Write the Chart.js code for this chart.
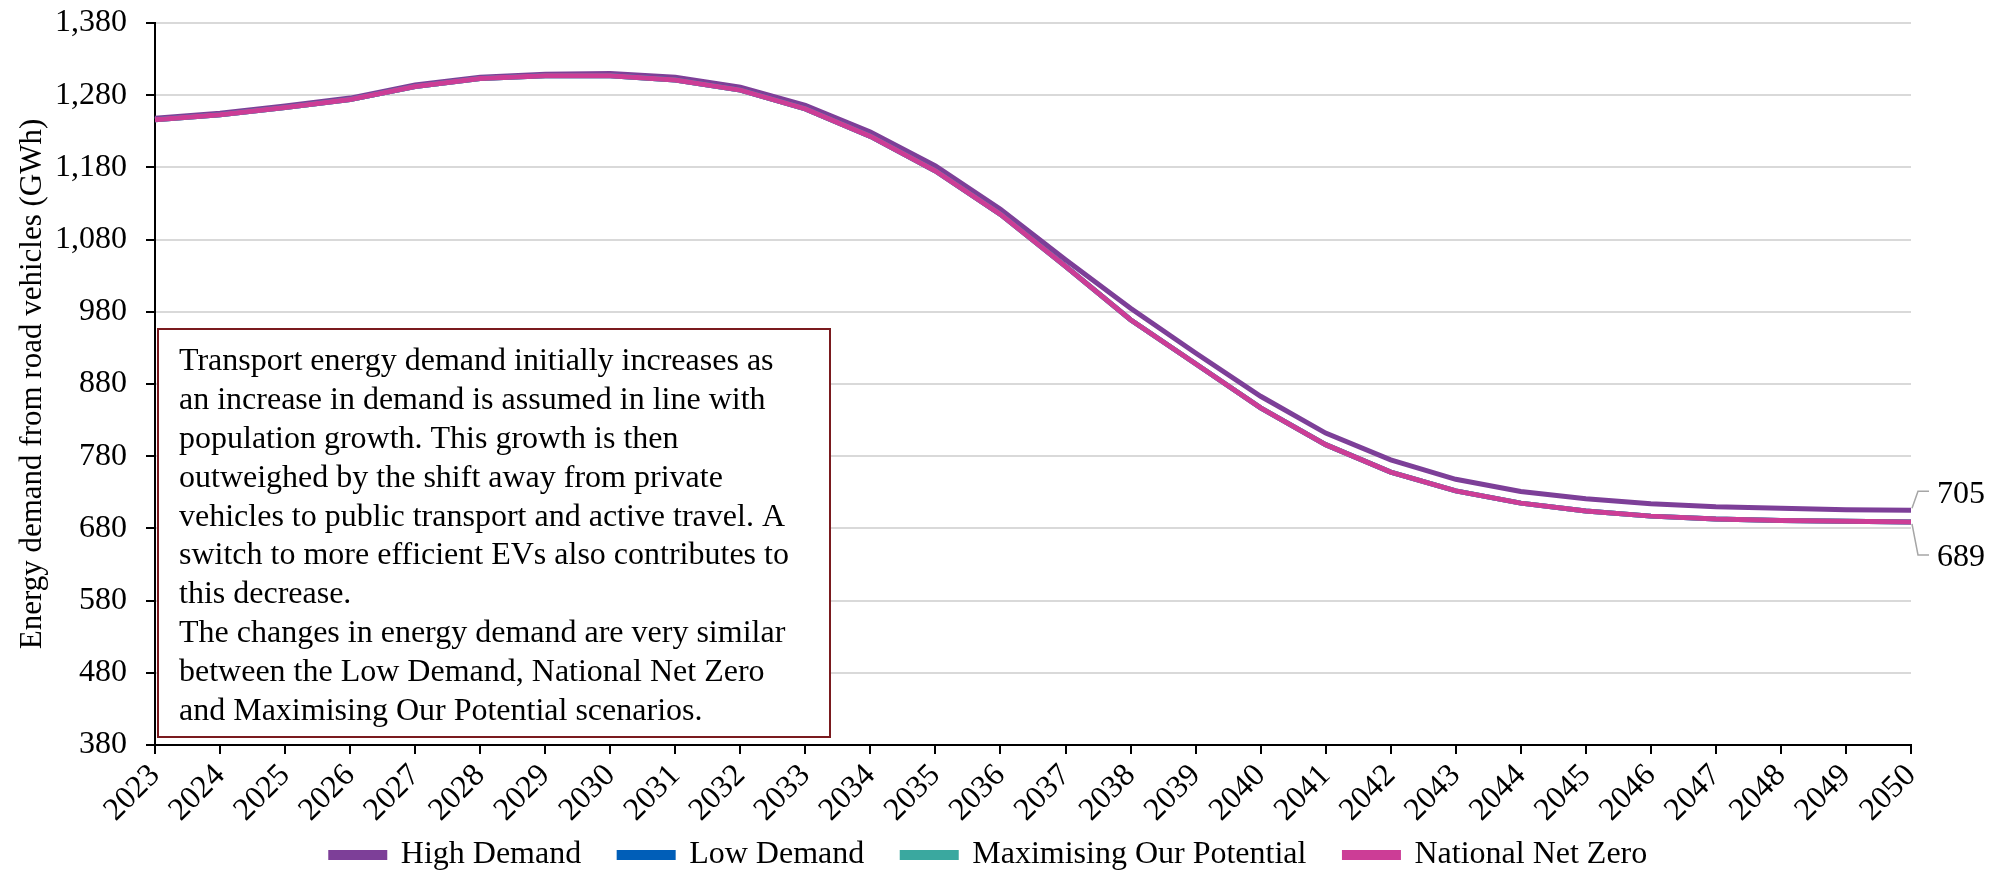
<!DOCTYPE html>
<html>
<head>
<meta charset="utf-8">
<script src="https://cdn.jsdelivr.net/npm/chart.js@4.4.1/dist/chart.umd.min.js"></script>
<style>
  html, body { margin: 0; padding: 0; background: #fff; }
  #wrap { width: 2006px; height: 875px; position: relative; }
</style>
</head>
<body>
<div id="wrap"><canvas id="demandChart"></canvas></div>
<script>
// ========== DATA ==========
const years = ['2023', '2024', '2025', '2026', '2027', '2028', '2029', '2030', '2031', '2032',
    '2033', '2034', '2035', '2036', '2037', '2038', '2039', '2040', '2041', '2042',
    '2043', '2044', '2045', '2046', '2047', '2048', '2049', '2050'];

const highDemand = [1248, 1255, 1265, 1276, 1294, 1305, 1309, 1310, 1305, 1291,
    1266, 1229, 1182, 1122, 1052, 985, 923, 863, 812, 775,
    748, 731, 721, 714, 710, 708, 706, 705];
const lowDemand = [1246, 1253, 1263, 1274, 1292, 1303, 1307, 1307, 1301, 1287,
    1261, 1223, 1175, 1115, 1043, 969, 908, 847, 796, 758,
    732, 715, 704, 697, 693, 691, 690, 689];
const maxPotential = [1246, 1253, 1263, 1274, 1292, 1303, 1307, 1307, 1301, 1287,
    1261, 1223, 1175, 1115, 1043, 969, 908, 847, 796, 758,
    732, 715, 704, 697, 693, 691, 690, 689];
const netZero = [1246, 1253, 1263, 1274, 1292, 1303, 1307, 1307, 1301, 1287,
    1261, 1223, 1175, 1115, 1043, 969, 908, 847, 796, 758,
    732, 715, 704, 697, 693, 691, 690, 689];

const yTicks = [380, 480, 580, 680, 780, 880, 980, 1080, 1180, 1280, 1380];

const noteLines = [
    'Transport energy demand initially increases as',
    'an increase in demand is assumed in line with',
    'population growth. This growth is then',
    'outweighed by the shift away from private',
    'vehicles to public transport and active travel. A',
    'switch to more efficient EVs also contributes to',
    'this decrease.',
    'The changes in energy demand are very similar',
    'between the Low Demand, National Net Zero',
    'and Maximising Our Potential scenarios.'
];

const FONT = "'Liberation Serif', 'Times New Roman', serif";

// ========== LET ROTATED YEAR LABELS OVERHANG THE AXIS BOX ==========
const labelRoomPlugin = {
    id: 'labelRoom',
    afterLayout(chart) {
        chart.scales.x.bottom = chart.height;
    }
};

// ========== NOTE BOX + END LABELS ==========
const noteBoxPlugin = {
    id: 'noteBox',
    afterDatasetsDraw(chart) {
        const ctx = chart.ctx;
        const area = chart.chartArea;
        ctx.save();
        // text box
        const bx = area.left + 3, by = 329, bw = 672, bh = 408;
        ctx.fillStyle = '#fff';
        ctx.fillRect(bx, by, bw, bh);
        ctx.strokeStyle = '#7a1a1e';
        ctx.lineWidth = 2;
        ctx.strokeRect(bx, by, bw, bh);
        ctx.fillStyle = '#000';
        ctx.font = '32px ' + FONT;
        ctx.textBaseline = 'middle';
        ctx.textAlign = 'left';
        noteLines.forEach((line, i) => {
            ctx.fillText(line, bx + 21, by + 33 + i * 38.8);
        });

        // end labels for last values
        const x = chart.scales.x.getPixelForValue(years.length - 1);
        const yHigh = chart.scales.y.getPixelForValue(highDemand[highDemand.length - 1]);
        const yLow = chart.scales.y.getPixelForValue(netZero[netZero.length - 1]);
        ctx.strokeStyle = '#a6a6a6';
        ctx.lineWidth = 1.5;
        ctx.beginPath();
        ctx.moveTo(x + 1, yHigh - 2);
        ctx.lineTo(x + 7, yHigh - 19);
        ctx.lineTo(x + 18, yHigh - 19);
        ctx.moveTo(x + 1, yLow + 2);
        ctx.lineTo(x + 7, yLow + 33);
        ctx.lineTo(x + 18, yLow + 33);
        ctx.stroke();
        ctx.fillStyle = '#000';
        ctx.fillText(String(highDemand[highDemand.length - 1]), x + 26, yHigh - 16);
        ctx.fillText(String(netZero[netZero.length - 1]), x + 26, yLow + 36);
        ctx.restore();
    }
};

// ========== CHART ==========
function makeSeries(label, data, color, order) {
    return {
        label: label,
        data: data,
        borderColor: color,
        backgroundColor: color,
        borderWidth: 5,
        pointRadius: 0,
        tension: 0,
        fill: false,
        order: order
    };
}

const ctx = document.getElementById('demandChart').getContext('2d');
new Chart(ctx, {
    type: 'line',
    data: {
        labels: years,
        datasets: [
            makeSeries('High Demand', highDemand, '#7d3f98', 3),
            makeSeries('Low Demand', lowDemand, '#005eb8', 2),
            makeSeries('Maximising Our Potential', maxPotential, '#3aa89f', 1),
            makeSeries('National Net Zero', netZero, '#cc3d96', 0)
        ]
    },
    options: {
        responsive: true,
        maintainAspectRatio: false,
        animation: false,
        layout: { padding: { top: 23, right: 28, left: 0, bottom: -6 } },
        plugins: {
            legend: {
                position: 'bottom',
                labels: {
                    font: { family: FONT, size: 32, lineHeight: 1 },
                    color: '#000',
                    boxWidth: 54,
                    boxHeight: 5,
                    padding: 38,
                    sort: (a, b) => a.datasetIndex - b.datasetIndex
                }
            },
            tooltip: { enabled: false }
        },
        scales: {
            x: {
                ticks: {
                    font: { family: FONT, size: 32 },
                    color: '#000',
                    maxRotation: 45,
                    minRotation: 45,
                    autoSkip: false,
                    padding: 3
                },
                grid: {
                    drawOnChartArea: false,
                    tickLength: 9,
                    tickColor: '#000',
                    lineWidth: 2
                },
                border: { color: '#000', width: 2 },
                afterFit: function(scale) { scale.height = 56; }
            },
            y: {
                min: 380,
                max: 1380,
                afterBuildTicks: function(scale) {
                    scale.ticks = yTicks.map(v => ({ value: v }));
                },
                ticks: {
                    font: { family: FONT, size: 32, lineHeight: 0.2 },
                    color: '#000',
                    padding: 19,
                    callback: function(value) { return value.toLocaleString('en-US'); }
                },
                grid: {
                    color: '#d9d9d9',
                    lineWidth: 2,
                    tickLength: 9,
                    tickColor: '#000'
                },
                border: { color: '#000', width: 2 },
                title: {
                    display: true,
                    text: 'Energy demand from road vehicles (GWh)',
                    font: { family: FONT, size: 31 },
                    color: '#000',
                    padding: { top: 14, bottom: 0 }
                },
                afterFit: function(scale) { scale.width = 155; }
            },
            yRight: {
                position: 'right',
                display: true,
                ticks: { display: false },
                grid: { display: false },
                border: { display: false },
                afterFit: function(scale) { scale.width = 67; }
            }
        }
    },
    plugins: [labelRoomPlugin, noteBoxPlugin]
});
</script>
</body>
</html>
